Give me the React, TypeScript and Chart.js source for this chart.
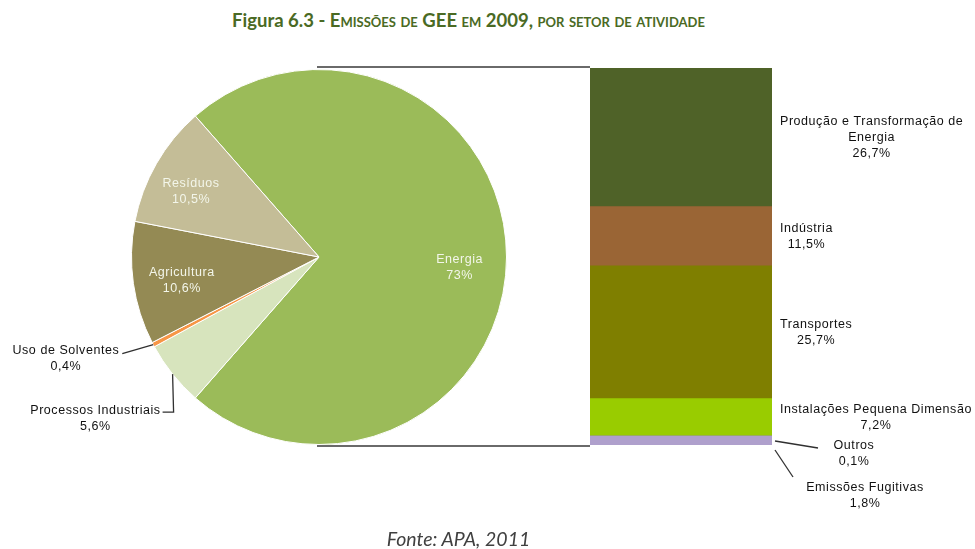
import { useEffect, useRef } from 'react';
import { Chart, registerables } from 'chart.js';

Chart.register(...registerables);

// ---------- data ----------
const pieLabels = ['Energia', 'Processos Industriais', 'Uso de Solventes', 'Agricultura', 'Resíduos'];
const pieValues = [73, 5.6, 0.4, 10.6, 10.5];
const pieValueText = ['73%', '5,6%', '0,4%', '10,6%', '10,5%'];
const pieColors = ['#9BBB59', '#D7E4BD', '#F79646', '#948A54', '#C4BD97'];

const energyLabels = [
  ['Produção e Transformação de', 'Energia'],
  ['Indústria'],
  ['Transportes'],
  ['Instalações Pequena Dimensão'],
  ['Outros'],
  ['Emissões Fugitivas'],
];
const energyValues = [26.7, 11.5, 25.7, 7.2, 0.1, 1.8];
const energyValueText = ['26,7%', '11,5%', '25,7%', '7,2%', '0,1%', '1,8%'];
const energyColors = ['#4F6228', '#9A6535', '#7F7F00', '#99CC00', '#9A8BC0', '#AFA0CC'];

const titleMain = 'Figura 6.3 - ';
const sourceText = 'Fonte: APA, 2011';

// ---------- layout / style ----------
const W = 975;
const H = 549;
const LABEL_FONT = '12.5px "Liberation Sans", Arial, sans-serif';
const LETTER_SP = '0.55px';
const LINE_H = 16;
const LEADER = '#303030';

// nudges (px) of the inside pie labels
const pieInsideNudge: Record<number, [number, number]> = {
  0: [0, 11],
  3: [2, 4],
  4: [-6, 5],
};
// external pie labels: offsets of label block (right edge, first line center) from slice edge point
const pieExternal: Record<number, { dx: number; dy: number; elbow: boolean }> = {
  1: { dx: -12, dy: 36, elbow: true },
  2: { dx: -34, dy: 6, elbow: false },
};

const geom = { cx: 0, cy: 0, r: 0 };

function setFont(ctx: any) {
  ctx.font = LABEL_FONT;
  try {
    ctx.letterSpacing = LETTER_SP;
  } catch (e) {
    /* ignore */
  }
}

const pieLabelPlugin = {
  id: 'pieLabelPlugin',
  afterDatasetsDraw(chart: any) {
    const ctx = chart.ctx;
    const meta = chart.getDatasetMeta(0);
    const total = pieValues.reduce((a, b) => a + b, 0);
    ctx.save();
    setFont(ctx);
    ctx.textBaseline = 'middle';
    meta.data.forEach((arc: any, i: number) => {
      const { x, y, startAngle, endAngle, outerRadius } = arc.getProps(
        ['x', 'y', 'startAngle', 'endAngle', 'outerRadius'],
        true
      );
      geom.cx = x;
      geom.cy = y;
      geom.r = outerRadius;
      const mid = (startAngle + endAngle) / 2;
      const share = pieValues[i] / total;
      if (share > 0.08) {
        const rr = outerRadius * 0.75;
        const n = pieInsideNudge[i] || [0, 0];
        const lx = x + Math.cos(mid) * rr + n[0];
        const ly = y + Math.sin(mid) * rr + n[1];
        ctx.fillStyle = '#F3F6EA';
        ctx.textAlign = 'center';
        ctx.fillText(pieLabels[i], lx, ly - LINE_H / 2);
        ctx.fillText(pieValueText[i], lx, ly + LINE_H / 2);
      } else {
        const ex = x + Math.cos(mid) * outerRadius;
        const ey = y + Math.sin(mid) * outerRadius;
        const o = pieExternal[i];
        const ax = ex + o.dx;
        const ay = ey + o.dy;
        const lines = [pieLabels[i], pieValueText[i]];
        const bw = Math.max(...lines.map((l) => ctx.measureText(l).width));
        const bcx = ax - bw / 2;
        ctx.fillStyle = '#111';
        ctx.textAlign = 'center';
        lines.forEach((l, k) => ctx.fillText(l, bcx, ay + k * LINE_H));
        ctx.strokeStyle = LEADER;
        ctx.lineWidth = 1.3;
        ctx.beginPath();
        ctx.moveTo(ex, ey);
        if (o.elbow) {
          ctx.lineTo(ex + 1, ay + 2);
          ctx.lineTo(ax + 2, ay + 2);
        } else {
          ctx.lineTo(ax + 3, ay + 3);
        }
        ctx.stroke();
      }
    });
    ctx.restore();
  },
};

const barLabelPlugin = {
  id: 'barLabelPlugin',
  afterDatasetsDraw(chart: any) {
    const ctx = chart.ctx;
    const segs = chart.data.datasets.map((_: any, i: number) => {
      const el = chart.getDatasetMeta(i).data[0];
      const p = el.getProps(['x', 'y', 'base', 'width'], true);
      return {
        left: p.x - p.width / 2,
        right: p.x + p.width / 2,
        top: Math.min(p.y, p.base),
        bottom: Math.max(p.y, p.base),
      };
    });
    const left = segs[0].left;
    const right = segs[0].right;
    const top = segs[0].top;
    const bottom = segs[segs.length - 1].bottom;
    ctx.save();
    // connectors from pie
    ctx.strokeStyle = '#3A3A3A';
    ctx.lineWidth = 1.6;
    ctx.beginPath();
    ctx.moveTo(geom.cx - 2, top - 1);
    ctx.lineTo(left, top - 1);
    ctx.moveTo(geom.cx - 2, bottom + 1);
    ctx.lineTo(left, bottom + 1);
    ctx.stroke();

    setFont(ctx);
    ctx.textBaseline = 'middle';
    ctx.textAlign = 'center';
    ctx.fillStyle = '#111';
    segs.forEach((s: any, i: number) => {
      const lines = [...energyLabels[i], energyValueText[i]];
      const bw = Math.max(...lines.map((l: string) => ctx.measureText(l).width));
      if (i < 4) {
        const bx = right + 8 + bw / 2;
        const cy = (s.top + s.bottom) / 2 + 1;
        const y0 = cy - ((lines.length - 1) * LINE_H) / 2;
        lines.forEach((l: string, k: number) => ctx.fillText(l, bx, y0 + k * LINE_H));
      } else if (i === 4) {
        const bx = right + 82;
        const y0 = bottom + 1;
        lines.forEach((l: string, k: number) => ctx.fillText(l, bx, y0 + k * LINE_H));
        ctx.strokeStyle = LEADER;
        ctx.lineWidth = 1.3;
        ctx.beginPath();
        ctx.moveTo(right + 3, bottom - 4);
        ctx.lineTo(right + 46, bottom + 3);
        ctx.stroke();
      } else {
        const bx = right + 93;
        const y0 = bottom + 43;
        lines.forEach((l: string, k: number) => ctx.fillText(l, bx, y0 + k * LINE_H));
        ctx.strokeStyle = LEADER;
        ctx.lineWidth = 1.3;
        ctx.beginPath();
        ctx.moveTo(right + 3, bottom + 5);
        ctx.lineTo(right + 21, bottom + 32);
        ctx.stroke();
      }
    });
    ctx.restore();
  },
};

export default function App() {
  const pieRef = useRef<HTMLCanvasElement>(null);
  const barRef = useRef<HTMLCanvasElement>(null);

  useEffect(() => {
    const total = pieValues.reduce((a, b) => a + b, 0);
    const rotation = 90 - (pieValues[0] / total) * 180;
    const pie = new Chart(pieRef.current as HTMLCanvasElement, {
      type: 'pie',
      data: {
        labels: pieLabels,
        datasets: [
          {
            data: pieValues,
            backgroundColor: pieColors,
            borderColor: '#FFFFFF',
            borderWidth: 1,
          },
        ],
      },
      options: {
        responsive: false,
        animation: false,
        rotation,
        layout: { padding: { left: 131, right: 468, top: 69, bottom: 104 } },
        plugins: { legend: { display: false }, tooltip: { enabled: false } },
      },
      plugins: [pieLabelPlugin],
    } as any);

    const barTotal = energyValues.reduce((a, b) => a + b, 0);
    const bar = new Chart(barRef.current as HTMLCanvasElement, {
      type: 'bar',
      data: {
        labels: ['Energia'],
        datasets: energyValues.map((v, i) => ({
          label: energyLabels[i].join(' '),
          data: [v],
          backgroundColor: energyColors[i],
          borderWidth: 0,
          barPercentage: 1,
          categoryPercentage: 1,
        })),
      },
      options: {
        responsive: false,
        animation: false,
        layout: { padding: { left: 590, right: 203, top: 68, bottom: 104 } },
        scales: {
          x: { stacked: true, display: false },
          y: { stacked: true, display: false, reverse: true, min: 0, max: barTotal },
        },
        plugins: { legend: { display: false }, tooltip: { enabled: false } },
      },
      plugins: [barLabelPlugin],
    } as any);

    return () => {
      bar.destroy();
      pie.destroy();
    };
  }, []);

  const sc: any = { fontVariant: 'small-caps' };
  return (
    <div style={{ position: 'absolute', left: 0, top: 0, width: W, height: H, background: '#fff', overflow: 'hidden' }}>
      <div
        style={{
          position: 'absolute',
          left: 0,
          top: 9,
          width: 937,
          textAlign: 'center',
          fontFamily: 'Lato, "Open Sans", sans-serif',
          fontWeight: 700,
          fontSize: 18.5,
          color: '#4A6A24',
          whiteSpace: 'nowrap',
        }}
      >
        {titleMain}
        <span style={sc}>Emissões de</span> GEE <span style={sc}>em</span> 2009, <span style={sc}>por setor de atividade</span>
      </div>
      <canvas ref={pieRef} width={W} height={H} style={{ position: 'absolute', left: 0, top: 0 }} />
      <canvas ref={barRef} width={W} height={H} style={{ position: 'absolute', left: 0, top: 0 }} />
      <div
        style={{
          position: 'absolute',
          left: 0,
          top: 527,
          width: 917,
          textAlign: 'center',
          fontFamily: 'Lato, "Open Sans", sans-serif',
          fontStyle: 'italic',
          fontSize: 19.5,
          color: '#404040',
          whiteSpace: 'nowrap',
        }}
      >
        {sourceText}
      </div>
    </div>
  );
}
